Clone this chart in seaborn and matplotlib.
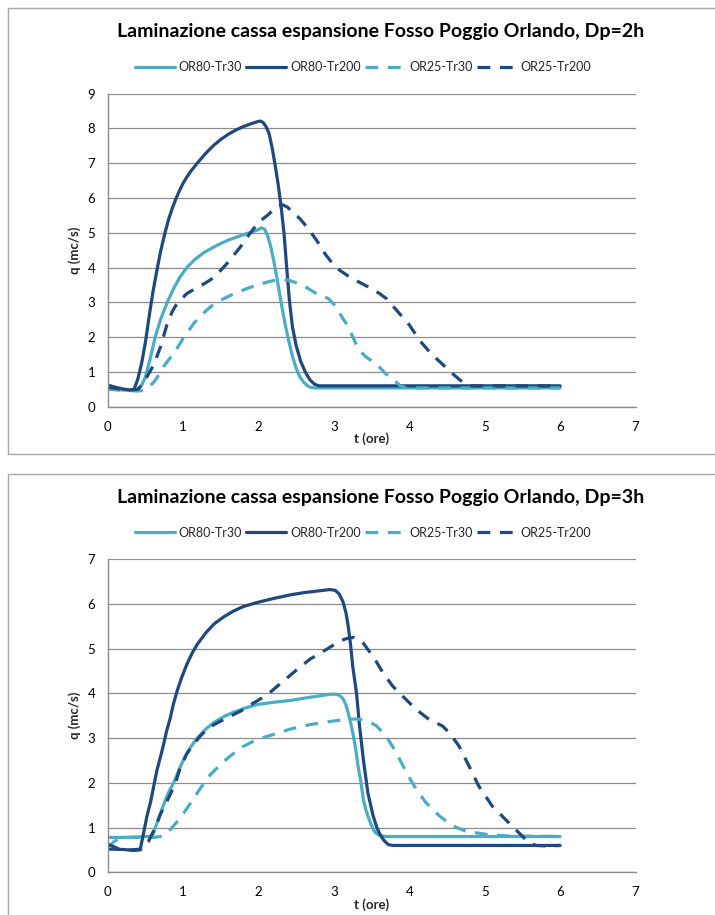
import matplotlib
matplotlib.use("Agg")
import matplotlib.pyplot as plt
import seaborn as sns
import pandas as pd
from matplotlib.patches import Rectangle
from matplotlib.lines import Line2D

# ---------------- data: Dp = 2h ----------------
t_or80_tr30_2h = [0, 0.1, 0.2, 0.3, 0.4, 0.45, 0.5, 0.56, 0.63, 0.7, 0.79, 0.88, 0.96, 1.05, 1.15, 1.27,
                  1.4, 1.5, 1.6, 1.72, 1.85, 1.98, 2.04, 2.08, 2.12, 2.16, 2.2, 2.24, 2.28, 2.32, 2.36,
                  2.4, 2.45, 2.5, 2.55, 2.6, 2.65, 2.7, 2.75, 3.0, 4.0, 5.0, 6.0]
q_or80_tr30_2h = [0.52, 0.5, 0.48, 0.47, 0.5, 0.62, 0.85, 1.35, 2.0, 2.5, 3.0, 3.42, 3.73, 4.0, 4.22, 4.42,
                  4.58, 4.69, 4.79, 4.88, 4.98, 5.07, 5.14, 5.1, 4.92, 4.62, 4.22, 3.75, 3.25, 2.75, 2.3,
                  1.9, 1.45, 1.1, 0.85, 0.7, 0.6, 0.55, 0.54, 0.54, 0.54, 0.54, 0.54]

t_or80_tr200_2h = [0, 0.1, 0.2, 0.3, 0.35, 0.4, 0.45, 0.5, 0.55, 0.6, 0.66, 0.7, 0.76, 0.81, 0.86, 0.9,
                   0.95, 1.0, 1.05, 1.1, 1.2, 1.3, 1.4, 1.5, 1.6, 1.7, 1.8, 1.9, 1.97, 2.02, 2.06, 2.1,
                   2.14, 2.18, 2.22, 2.26, 2.3, 2.34, 2.37, 2.41, 2.45, 2.5, 2.56, 2.62, 2.68, 2.74, 2.8,
                   3.0, 4.0, 5.0, 6.0]
q_or80_tr200_2h = [0.62, 0.56, 0.51, 0.48, 0.5, 0.8, 1.25, 1.85, 2.6, 3.3, 4.0, 4.45, 5.0, 5.4, 5.72, 5.95,
                   6.2, 6.42, 6.6, 6.76, 7.03, 7.28, 7.5, 7.68, 7.83, 7.95, 8.05, 8.13, 8.18, 8.21, 8.17, 8.05,
                   7.85, 7.45, 6.95, 6.4, 5.75, 4.95, 4.1, 3.05, 2.3, 1.75, 1.3, 1.0, 0.78, 0.65, 0.6,
                   0.6, 0.6, 0.6, 0.6]

t_or25_tr30_2h = [0, 0.2, 0.4, 0.47, 0.54, 0.61, 0.68, 0.74, 0.81, 0.88, 0.95, 1.01, 1.08, 1.14, 1.23, 1.32,
                  1.4, 1.5, 1.63, 1.74, 1.85, 1.95, 2.05, 2.15, 2.25, 2.33, 2.42, 2.5, 2.58, 2.67, 2.76,
                  2.85, 2.93, 3.02, 3.1, 3.16, 3.23, 3.29, 3.35, 3.42, 3.5, 3.55, 3.62, 3.68, 3.75, 3.82,
                  3.88, 3.95, 4.1, 5.0, 6.0]
q_or25_tr30_2h = [0.5, 0.47, 0.45, 0.47, 0.56, 0.7, 0.92, 1.15, 1.35, 1.55, 1.78, 2.0, 2.2, 2.39, 2.6, 2.79,
                  2.93, 3.06, 3.2, 3.3, 3.4, 3.47, 3.54, 3.6, 3.65, 3.66, 3.62, 3.56, 3.5, 3.38, 3.26,
                  3.19, 3.1, 2.9, 2.6, 2.4, 2.1, 1.82, 1.6, 1.44, 1.32, 1.25, 1.1, 0.96, 0.84, 0.72,
                  0.6, 0.55, 0.54, 0.54, 0.54]

t_or25_tr200_2h = [0, 0.1, 0.2, 0.3, 0.4, 0.45, 0.52, 0.61, 0.7, 0.79, 0.86, 0.92, 1.05, 1.15, 1.23, 1.36,
                   1.47, 1.58, 1.67, 1.76, 1.87, 1.98, 2.06, 2.12, 2.2, 2.27, 2.32, 2.38, 2.45, 2.55, 2.67,
                   2.78, 2.89, 2.98, 3.07, 3.18, 3.29, 3.45, 3.6, 3.7, 3.8, 3.9, 4.0, 4.15, 4.3, 4.4,
                   4.5, 4.6, 4.67, 4.75, 4.82, 5.0, 6.0]
q_or25_tr200_2h = [0.56, 0.53, 0.5, 0.48, 0.5, 0.62, 0.86, 1.2, 1.72, 2.39, 2.75, 2.97, 3.25, 3.38, 3.47, 3.64,
                   3.85, 4.11, 4.35, 4.59, 4.93, 5.24, 5.4, 5.5, 5.66, 5.78, 5.8, 5.74, 5.6, 5.4, 5.09,
                   4.75, 4.37, 4.12, 3.93, 3.77, 3.63, 3.45, 3.26, 3.1, 2.85, 2.6, 2.35, 1.87, 1.5, 1.3,
                   1.1, 0.9, 0.77, 0.65, 0.6, 0.6, 0.6]

# ---------------- data: Dp = 3h ----------------
t_or80_tr30_3h = [0, 0.2, 0.4, 0.5, 0.56, 0.6, 0.65, 0.7, 0.75, 0.8, 0.88, 0.96, 1.03, 1.1, 1.19, 1.3,
                  1.41, 1.54, 1.67, 1.82, 1.98, 2.2, 2.42, 2.6, 2.8, 2.95, 3.02, 3.07, 3.12, 3.16, 3.19,
                  3.22, 3.25, 3.29, 3.32, 3.36, 3.39, 3.42, 3.45, 3.52, 3.56, 3.61, 3.7, 4.0, 5.0, 6.0]
q_or80_tr30_3h = [0.78, 0.78, 0.79, 0.8, 0.8, 0.85, 1.08, 1.32, 1.55, 1.76, 2.02, 2.35, 2.6, 2.8, 3.0, 3.2,
                  3.35, 3.48, 3.58, 3.67, 3.75, 3.8, 3.84, 3.89, 3.94, 3.98, 3.98, 3.96, 3.88, 3.74, 3.56,
                  3.35, 3.12, 2.75, 2.38, 2.0, 1.63, 1.42, 1.26, 0.96, 0.87, 0.82, 0.8, 0.8, 0.8, 0.8]

t_or80_tr200_3h = [0, 0.2, 0.35, 0.43, 0.48, 0.52, 0.57, 0.61, 0.65, 0.7, 0.74, 0.78, 0.83, 0.87, 0.92, 0.98,
                   1.05, 1.12, 1.19, 1.3, 1.41, 1.54, 1.67, 1.8, 1.98, 2.2, 2.42, 2.6, 2.8, 2.95, 3.02,
                   3.07, 3.12, 3.16, 3.19, 3.22, 3.25, 3.3, 3.34, 3.39, 3.45, 3.52, 3.57, 3.61, 3.66, 3.72,
                   3.78, 4.0, 5.0, 6.0]
q_or80_tr200_3h = [0.52, 0.51, 0.49, 0.5, 0.91, 1.25, 1.58, 1.92, 2.26, 2.58, 2.85, 3.15, 3.45, 3.75, 4.05, 4.35,
                   4.65, 4.9, 5.1, 5.35, 5.55, 5.71, 5.84, 5.94, 6.03, 6.12, 6.2, 6.25, 6.29, 6.32, 6.3,
                   6.22, 6.05, 5.8, 5.5, 5.1, 4.6, 4.0, 3.27, 2.53, 1.78, 1.26, 1.0, 0.85, 0.72, 0.62,
                   0.6, 0.6, 0.6, 0.6]

t_or25_tr30_3h = [0, 0.08, 0.15, 0.3, 0.5, 0.6, 0.7, 0.78, 0.85, 0.96, 1.1, 1.23, 1.36, 1.54, 1.76, 1.98,
                  2.2, 2.42, 2.68, 2.9, 3.12, 3.3, 3.45, 3.56, 3.69, 3.83, 3.96, 4.09, 4.22, 4.4, 4.57,
                  4.75, 5.01, 5.32, 6.0]
q_or25_tr30_3h = [0.55, 0.68, 0.76, 0.78, 0.78, 0.78, 0.8, 0.87, 0.99, 1.21, 1.55, 1.88, 2.18, 2.48, 2.78, 2.97,
                  3.08, 3.2, 3.3, 3.36, 3.41, 3.43, 3.38, 3.28, 3.05, 2.67, 2.23, 1.86, 1.56, 1.26, 1.04,
                  0.92, 0.85, 0.81, 0.8]

t_or25_tr200_3h = [0, 0.07, 0.15, 0.3, 0.45, 0.54, 0.63, 0.7, 0.79, 0.9, 0.96, 1.05, 1.14, 1.23, 1.32, 1.41,
                   1.58, 1.76, 1.9, 2.03, 2.14, 2.25, 2.46, 2.68, 2.9, 3.08, 3.18, 3.27, 3.34, 3.39, 3.45,
                   3.52, 3.65, 3.78, 3.91, 4.09, 4.26, 4.44, 4.53, 4.66, 4.79, 4.92, 5.1, 5.27, 5.45, 5.58,
                   5.68, 5.8, 6.0]
q_or25_tr200_3h = [0.63, 0.58, 0.52, 0.5, 0.52, 0.69, 1.0, 1.3, 1.6, 2.0, 2.33, 2.65, 2.87, 3.05, 3.2, 3.3,
                   3.45, 3.6, 3.75, 3.88, 4.0, 4.16, 4.46, 4.76, 4.98, 5.17, 5.23, 5.25, 5.2, 5.12, 4.98,
                   4.83, 4.46, 4.16, 3.94, 3.64, 3.42, 3.27, 3.12, 2.82, 2.38, 1.93, 1.48, 1.19, 0.89, 0.67,
                   0.6, 0.59, 0.6]

series_names = ["OR80-Tr30", "OR80-Tr200", "OR25-Tr30", "OR25-Tr200"]
titles = ["Laminazione cassa espansione Fosso Poggio Orlando, Dp=2h",
          "Laminazione cassa espansione Fosso Poggio Orlando, Dp=3h"]
x_ticks = [0, 1, 2, 3, 4, 5, 6, 7]
y_ticks_2h = [0, 1, 2, 3, 4, 5, 6, 7, 8, 9]
y_ticks_3h = [0, 1, 2, 3, 4, 5, 6, 7]
x_label = "t (ore)"
y_label = "q (mc/s)"

LIGHT = "#4BACC6"
DARK = "#1F497D"
DASH = (0, (4, 3))
styles = {
    "OR80-Tr30": dict(color=LIGHT, linestyle="-"),
    "OR80-Tr200": dict(color=DARK, linestyle="-"),
    "OR25-Tr30": dict(color=LIGHT, linestyle=DASH),
    "OR25-Tr200": dict(color=DARK, linestyle=DASH),
}


def long_frame(pairs):
    frames = []
    for name, (t, q) in zip(series_names, pairs):
        frames.append(pd.DataFrame({"t": t, "q": q, "serie": name}))
    return pd.concat(frames, ignore_index=True)


df_2h = long_frame([(t_or80_tr30_2h, q_or80_tr30_2h), (t_or80_tr200_2h, q_or80_tr200_2h),
                    (t_or25_tr30_2h, q_or25_tr30_2h), (t_or25_tr200_2h, q_or25_tr200_2h)])
df_3h = long_frame([(t_or80_tr30_3h, q_or80_tr30_3h), (t_or80_tr200_3h, q_or80_tr200_3h),
                    (t_or25_tr30_3h, q_or25_tr30_3h), (t_or25_tr200_3h, q_or25_tr200_3h)])

sns.set_style("white")
plt.rcParams["font.family"] = ["Lato", "DejaVu Sans"]

W, H = 715, 915
fig = plt.figure(figsize=(W / 100, H / 100), dpi=100)
fig.patch.set_facecolor("white")

GRID = "#8C8C8C"
LW = 2.3


def add_panel(df, yticks, title, dy):
    # outer chart frame (extends past the right edge)
    fig.add_artist(Rectangle((8 / W, 1 - (454 + dy) / H), 1.2, (446) / H,
                             transform=fig.transFigure, fill=False,
                             edgecolor="#A6A6A6", linewidth=1.0))
    left, right = 107.7, 107.7 + 7 * 75.4
    top, bottom = 93.5 + dy, 406.7 + dy
    ax = fig.add_axes([left / W, 1 - bottom / H, (right - left) / W, (bottom - top) / H])
    ax.set_facecolor("white")
    for name in series_names:
        sub = df[df["serie"] == name]
        sns.lineplot(data=sub, x="t", y="q", ax=ax, sort=False, estimator=None,
                     legend=False, linewidth=LW, dash_capstyle="butt",
                     solid_joinstyle="round", **styles[name])
    ax.set_xlim(0, 7)
    ax.set_ylim(0, yticks[-1])
    ax.set_xticks(x_ticks)
    ax.set_yticks(yticks)
    ax.set_xticklabels([str(v) for v in x_ticks])
    ax.set_yticklabels([str(v) for v in yticks])
    ax.yaxis.grid(True, color=GRID, linewidth=0.9)
    ax.xaxis.grid(False)
    ax.set_axisbelow(True)
    for s in ["top", "right"]:
        ax.spines[s].set_visible(False)
    for s in ["left", "bottom"]:
        ax.spines[s].set_color(GRID)
        ax.spines[s].set_linewidth(1.0)
    ax.tick_params(axis="both", which="major", direction="out", length=4, width=0.9,
                   color=GRID, labelsize=9.5, labelcolor="black", pad=5)
    ax.tick_params(axis="x", pad=6)
    ax.set_xlabel(x_label, fontsize=9.5, fontweight="bold", labelpad=0)
    ax.set_ylabel(y_label, fontsize=9.5, fontweight="bold", labelpad=5)
    fig.text(381 / W, 1 - (32 + dy) / H, title, ha="center", va="center",
             fontsize=14, fontweight="bold", color="black")
    handles = [Line2D([], [], linewidth=LW, dash_capstyle="butt", **styles[n]) for n in series_names]
    fig.legend(handles, series_names, loc="center", ncol=4, frameon=False,
               bbox_to_anchor=(363 / W, 1 - (67 + dy) / H), bbox_transform=fig.transFigure,
               fontsize=9, handlelength=3.2, handletextpad=0.3, columnspacing=0.35,
               borderpad=0, borderaxespad=0)
    return ax


add_panel(df_2h, y_ticks_2h, titles[0], 0)
add_panel(df_3h, y_ticks_3h, titles[1], 465.6)

fig.savefig("out.png", dpi=100, facecolor="white")
